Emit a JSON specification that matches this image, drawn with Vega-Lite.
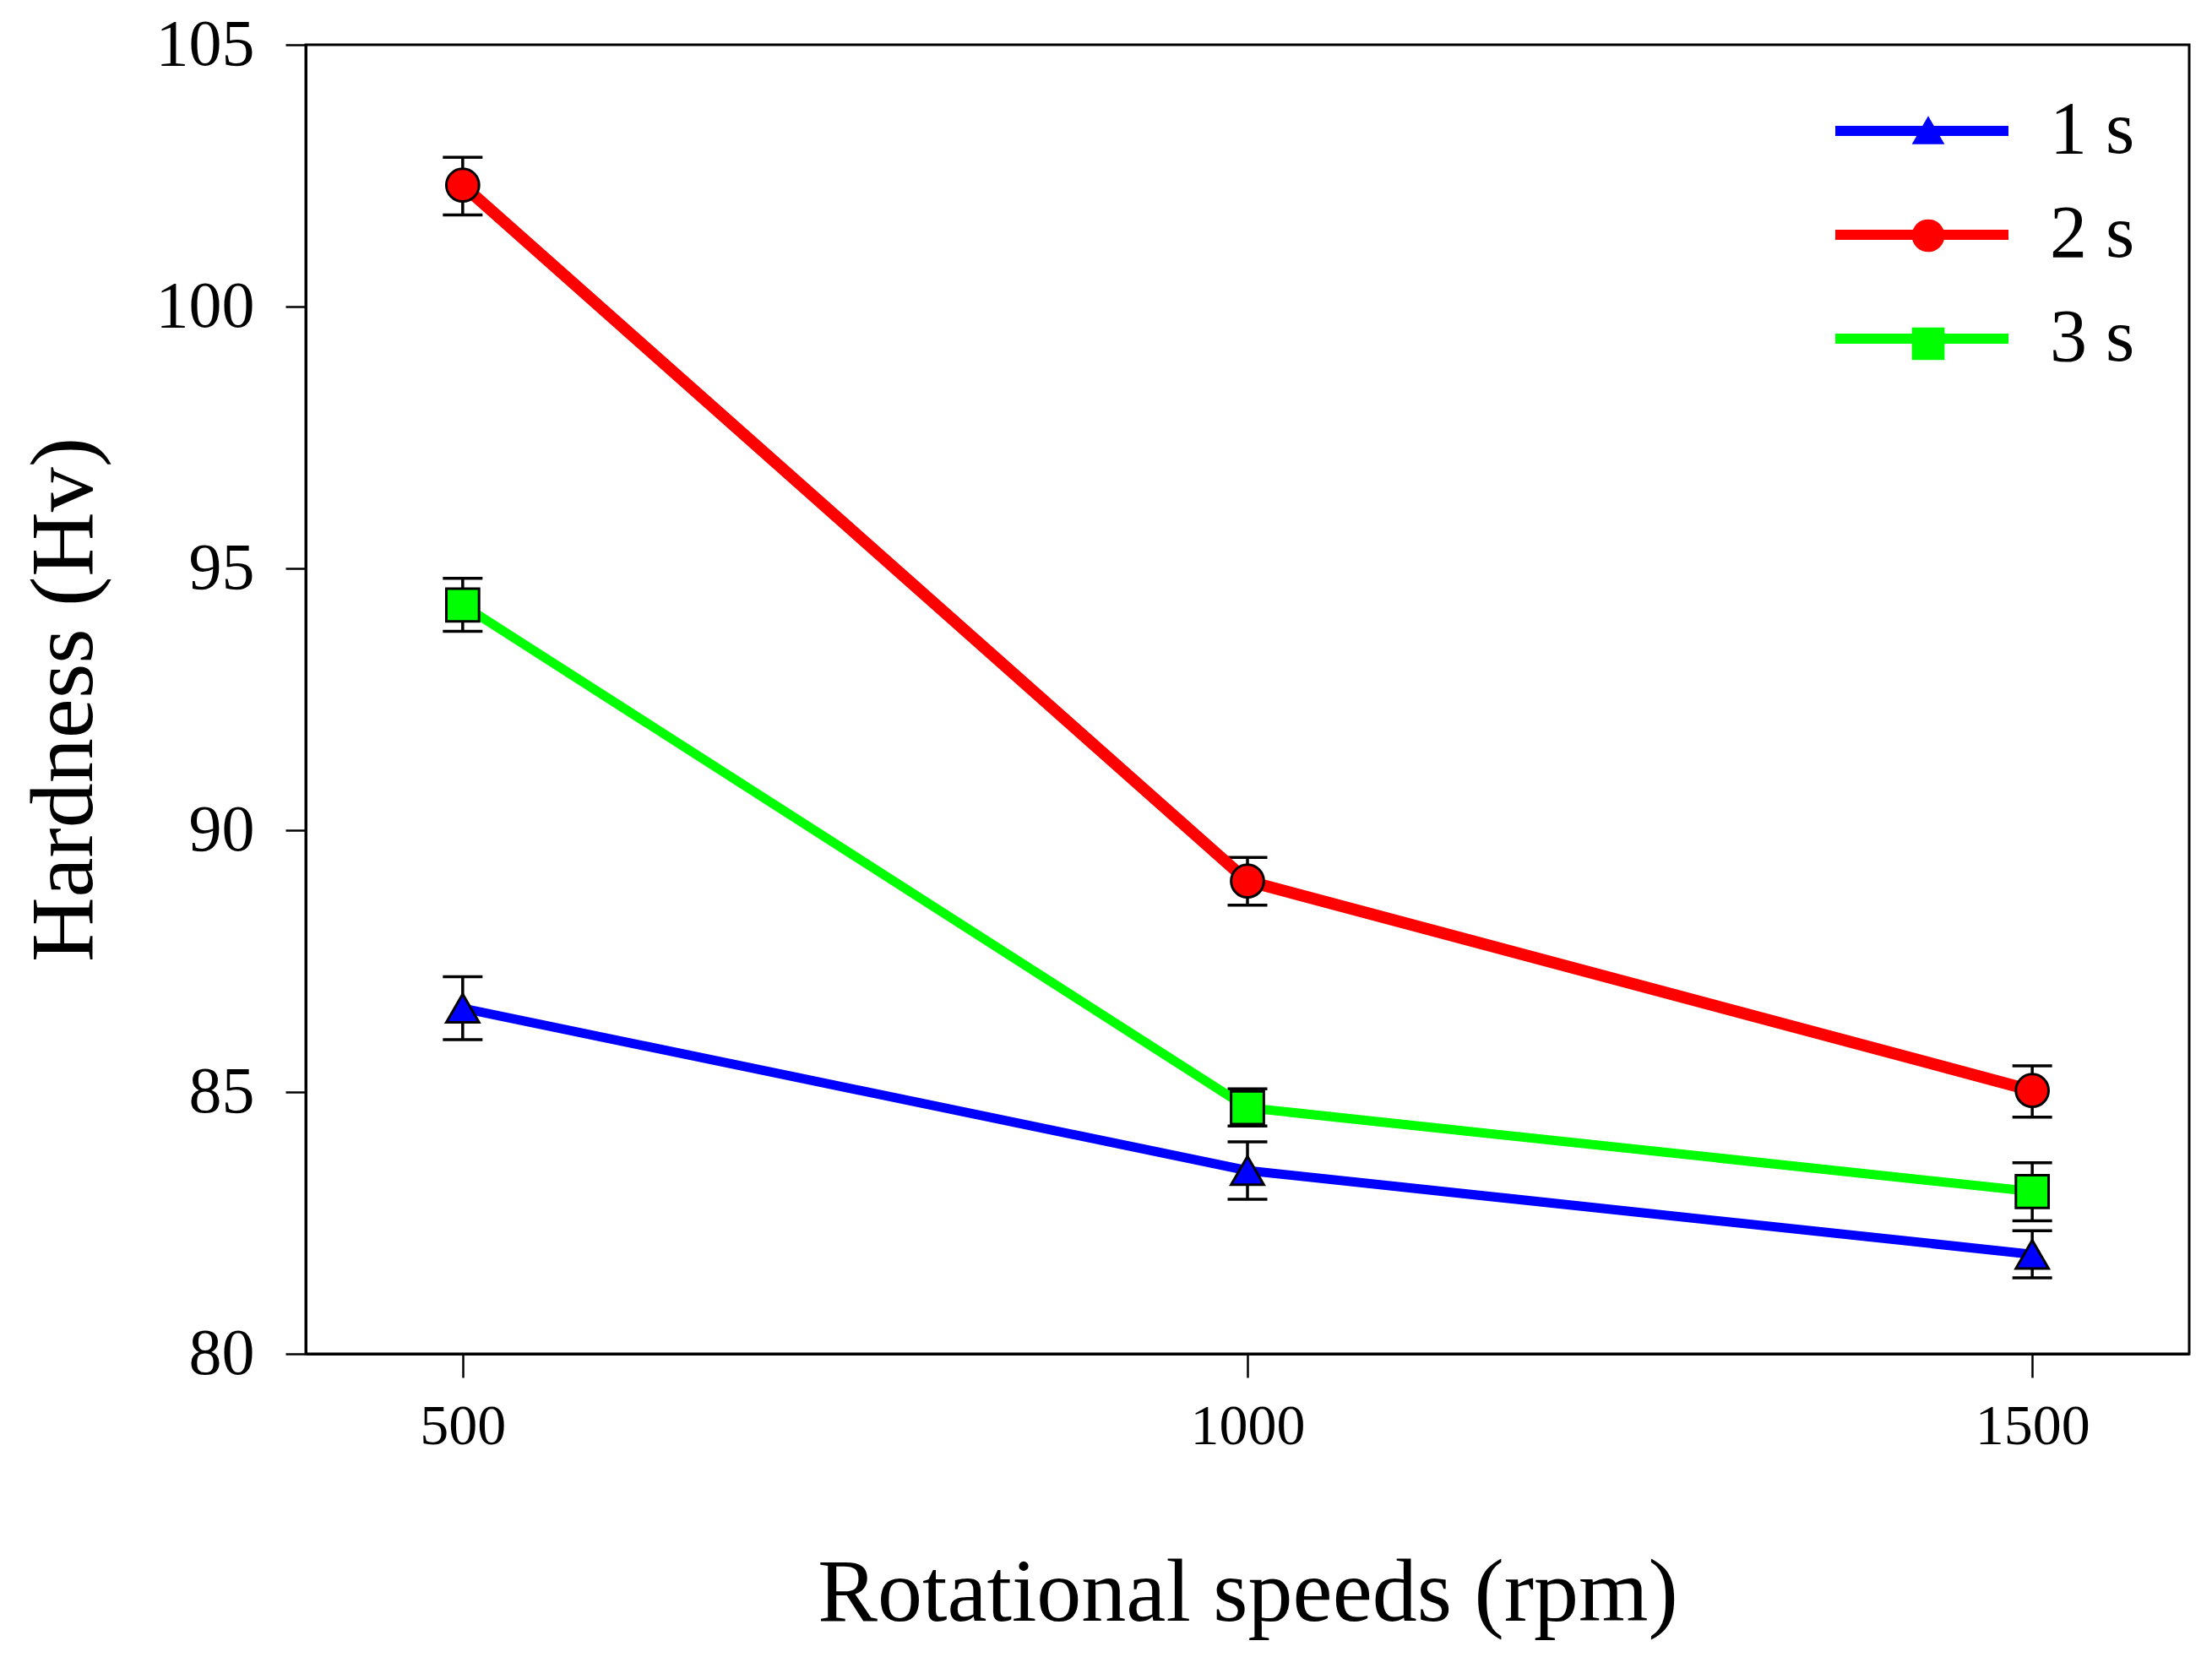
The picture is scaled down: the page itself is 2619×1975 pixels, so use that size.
{
  "$schema": "https://vega.github.io/schema/vega-lite/v6.json",
  "width": 2230,
  "height": 1550,
  "autosize": "none",
  "padding": {"left": 362, "top": 53, "right": 27, "bottom": 372},
  "background": "white",
  "data": {
    "values": [
      {"speed": 500, "time": "1 s", "hardness": 86.6, "lo": 86.0, "hi": 87.2},
      {"speed": 1000, "time": "1 s", "hardness": 83.5, "lo": 82.95, "hi": 84.05},
      {"speed": 1500, "time": "1 s", "hardness": 81.9, "lo": 81.45, "hi": 82.35},
      {"speed": 500, "time": "2 s", "hardness": 102.32, "lo": 101.75, "hi": 102.85},
      {"speed": 1000, "time": "2 s", "hardness": 89.03, "lo": 88.57, "hi": 89.48},
      {"speed": 1500, "time": "2 s", "hardness": 85.03, "lo": 84.52, "hi": 85.5},
      {"speed": 500, "time": "3 s", "hardness": 94.3, "lo": 93.8, "hi": 94.81},
      {"speed": 1000, "time": "3 s", "hardness": 84.7, "lo": 84.35, "hi": 85.06},
      {"speed": 1500, "time": "3 s", "hardness": 83.1, "lo": 82.54, "hi": 83.65}
    ]
  },
  "encoding": {
    "x": {
      "field": "speed",
      "type": "quantitative",
      "scale": {"domain": [400, 1600], "nice": false, "zero": false},
      "axis": {
        "values": [500, 1000, 1500],
        "format": "d",
        "title": "Rotational speeds (rpm)",
        "tickSize": 28,
        "labelPadding": 24,
        "labelFontSize": 68,
        "titleFontSize": 106,
        "titleBaseline": "alphabetic",
        "titlePadding": 195
      }
    }
  },
  "layer": [
    {
      "mark": {"type": "rule", "color": "black", "strokeWidth": 3.5},
      "encoding": {
        "y": {
          "field": "lo",
          "type": "quantitative",
          "title": "Hardness (Hv)",
          "scale": {"domain": [80, 105], "nice": false, "zero": false},
          "axis": {
            "values": [80, 85, 90, 95, 100, 105],
            "format": "d",
            "tickSize": 24,
            "labelPadding": 37,
            "labelFontSize": 78,
            "titleFontSize": 106,
            "titleBaseline": "alphabetic",
            "titlePadding": 76
          }
        },
        "y2": {"field": "hi"}
      }
    },
    {
      "mark": {"type": "tick", "orient": "horizontal", "color": "black", "size": 47, "thickness": 3.5, "opacity": 1},
      "encoding": {
        "y": {"field": "lo", "type": "quantitative", "title": "Hardness (Hv)", "scale": {"domain": [80, 105], "nice": false, "zero": false}}
      }
    },
    {
      "mark": {"type": "tick", "orient": "horizontal", "color": "black", "size": 47, "thickness": 3.5, "opacity": 1},
      "encoding": {
        "y": {"field": "hi", "type": "quantitative", "title": "Hardness (Hv)", "scale": {"domain": [80, 105], "nice": false, "zero": false}}
      }
    },
    {
      "mark": {"type": "line"},
      "encoding": {
        "y": {"field": "hardness", "type": "quantitative", "title": "Hardness (Hv)", "scale": {"domain": [80, 105], "nice": false, "zero": false}},
        "color": {
          "field": "time",
          "type": "nominal",
          "scale": {"range": ["#0000ff", "#ff0000", "#00ff00"]},
          "legend": {
            "orient": "top-right",
            "offset": 64,
            "zindex": 1,
            "title": null,
            "symbolType": "stroke",
            "symbolSize": 42025,
            "symbolStrokeWidth": 12,
            "labelFontSize": 88,
            "labelOffset": 43,
            "clipHeight": 76,
            "rowPadding": 35,
            "padding": 0
          }
        },
        "strokeWidth": {
          "condition": {"test": "datum.time === '2 s'", "value": 14},
          "value": 11
        }
      }
    },
    {
      "mark": {"type": "point", "filled": true, "stroke": "black", "strokeWidth": 3, "size": 1500, "opacity": 1},
      "encoding": {
        "y": {"field": "hardness", "type": "quantitative", "title": "Hardness (Hv)", "scale": {"domain": [80, 105], "nice": false, "zero": false}},
        "fill": {
          "field": "time",
          "type": "nominal",
          "scale": {"domain": ["1 s", "2 s", "3 s"], "range": ["#0000ff", "#ff0000", "#00ff00"]},
          "legend": {
            "orient": "none",
            "legendX": 1900,
            "legendY": 80,
            "zindex": 2,
            "title": null,
            "symbolSize": 1500,
            "symbolStrokeColor": "black",
            "symbolStrokeWidth": 3,
            "labelFontSize": 1,
            "labelOffset": 0,
            "labelOpacity": 0,
            "rowPadding": 76,
            "padding": 0,
            "encode": {
              "symbols": {
                "update": {
                  "size": {"value": 1500},
                  "stroke": {"value": "black"},
                  "strokeWidth": {"value": 3},
                  "opacity": {"value": 1}
                }
              }
            }
          }
        },
        "shape": {
          "field": "time",
          "type": "nominal",
          "scale": {"domain": ["1 s", "2 s", "3 s"], "range": ["triangle-up", "circle", "square"]},
          "legend": {
            "orient": "none",
            "legendX": 1900,
            "legendY": 80,
            "zindex": 2,
            "title": null,
            "symbolSize": 1500,
            "symbolStrokeColor": "black",
            "symbolStrokeWidth": 3,
            "labelFontSize": 1,
            "labelOffset": 0,
            "labelOpacity": 0,
            "rowPadding": 76,
            "padding": 0,
            "encode": {
              "symbols": {
                "update": {
                  "size": {"value": 1500},
                  "stroke": {"value": "black"},
                  "strokeWidth": {"value": 3},
                  "opacity": {"value": 1}
                }
              }
            }
          }
        }
      }
    }
  ],
  "config": {
    "font": "Liberation Serif",
    "view": {"stroke": "black", "strokeWidth": 3},
    "axis": {
      "grid": false,
      "domainColor": "black",
      "domainWidth": 3,
      "tickColor": "black",
      "tickWidth": 2.5,
      "labelColor": "black",
      "titleColor": "black",
      "labelFont": "Liberation Serif",
      "titleFont": "Liberation Serif",
      "titleFontWeight": "normal"
    },
    "legend": {
      "labelFont": "Liberation Serif",
      "labelColor": "black"
    }
  }
}
